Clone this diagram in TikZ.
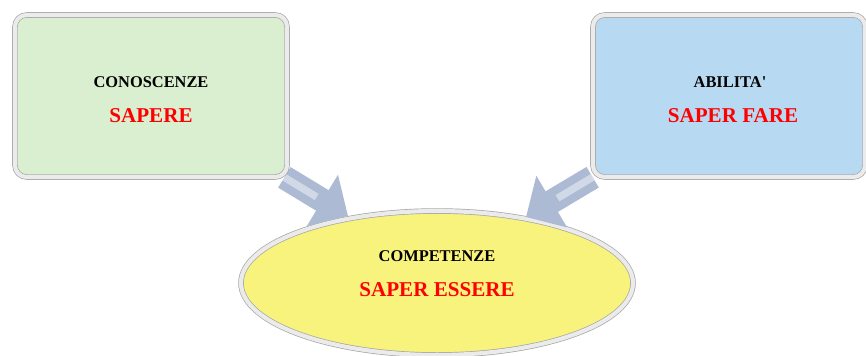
\documentclass[tikz,border=0pt]{standalone}
\usepackage{fontspec}
\setmainfont{Liberation Serif}
\usetikzlibrary{shapes.geometric,arrows.meta,shadows}

\definecolor{conGreen}{RGB}{218,238,208}
\definecolor{abiBlue}{RGB}{184,217,242}
\definecolor{compYellow}{RGB}{248,243,125}
\definecolor{arrBlue}{RGB}{172,186,212}
\definecolor{rimGray}{RGB}{235,235,235}

\pgfdeclarelayer{back}
\pgfdeclarelayer{mid}
\pgfsetlayers{back,mid,main}

\tikzset{
  box/.style={rectangle,rounded corners=0.35cm,inner sep=0pt,
    minimum width=8.16cm,minimum height=4.86cm,
    draw=gray!70,line width=0.6pt,double=rimGray,double distance=3.5pt,
    drop shadow={shadow xshift=1.5pt,shadow yshift=-1.5pt,opacity=0.35}},
  oval/.style={ellipse,inner sep=0pt,minimum width=11.76cm,minimum height=4.32cm,
    draw=gray!70,line width=0.6pt,double=rimGray,double distance=3.5pt,
    drop shadow={shadow xshift=1.5pt,shadow yshift=-1.5pt,opacity=0.3}},
  hd/.style={font=\fontsize{14}{16}\selectfont\bfseries,text=black},
  sub/.style={font=\fontsize{18}{20}\selectfont\bfseries,text=red},
  bigarrow/.style={draw=arrBlue,line width=0.72cm,
    -{Triangle[length=0.9cm,width=1.75cm]},
    postaction={draw=white,opacity=0.45,line width=0.22cm,-,shorten >=1.1cm}}
}

\begin{document}
\begin{tikzpicture}[x=0.03cm,y=-0.03cm]
\useasboundingbox (0,0) rectangle (866,355);

%ellisse in basso
\begin{pgfonlayer}{back}
\node[oval,fill=compYellow] (comp) at (437,283) {};
\end{pgfonlayer}

%riquadri
\node[box,fill=conGreen] (con) at (151,96) {};
\node[box,fill=abiBlue] (abi) at (729,96) {};

%testi
\node[hd] (conH) at (151,82) {CONOSCENZE};
\node[sub] (conS) at (151,116) {SAPERE};
\node[hd] (abiH) at (730,82) {ABILITA\textquotesingle};
\node[sub] (abiS) at (733,116) {SAPER FARE};
\node[hd] (compH) at (437,256) {COMPETENZE};
\node[sub] (compS) at (437,290) {SAPER ESSERE};

%frecce
\coordinate (tipL) at (348,216);
\coordinate (tipR) at (526,217);
\begin{pgfonlayer}{mid}
\draw[bigarrow] (con) -- (tipL);
\draw[bigarrow] (abi) -- (tipR);
\end{pgfonlayer}

\end{tikzpicture}
\end{document}
